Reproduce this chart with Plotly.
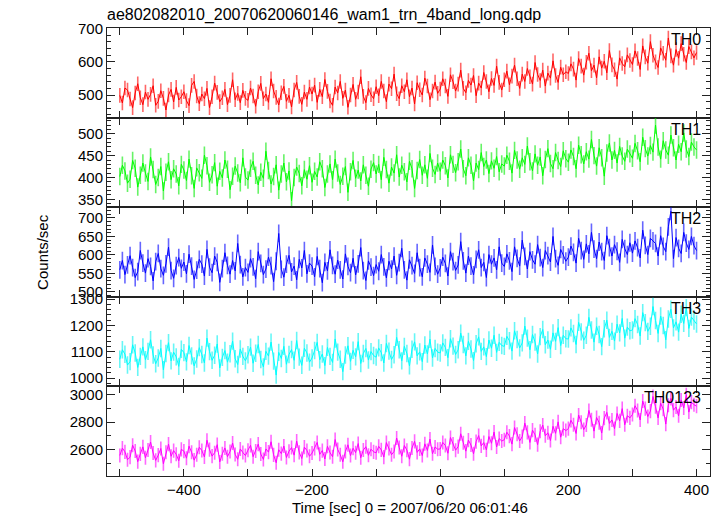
import plotly.graph_objects as go

# ---- data (4-s bins) ----
time_sec = list(range(-500, 401, 4))

th0 = [
    499, 476, 521, 515, 488, 462, 506, 534, 492, 471, 509, 487, 502, 528, 469, 481, 513, 490, 455, 500, 517, 479, 523, 485, 495,
    510, 483, 468, 529, 541, 497, 474, 503, 489, 520, 462, 495, 536, 508, 480, 492, 517, 471, 499, 546, 486, 505, 477, 514, 490,
    484, 521, 497, 466, 510, 535, 489, 503, 478, 549, 512, 493, 470, 507, 526, 481, 499, 464, 515, 538, 496, 472, 509, 487, 524,
    503, 530, 478, 517, 495, 547, 511, 482, 469, 524, 506, 541, 490, 515, 463, 500, 532, 487, 509, 555, 496, 477, 520, 501, 489,
    525, 498, 541, 512, 480, 533, 519, 563, 504, 489, 528, 510, 546, 495, 521, 473, 537, 516, 500, 551, 527, 486, 512, 539, 505,
    518, 549, 527, 496, 561, 540, 512, 533, 575, 520, 507, 544, 530, 559, 498, 536, 521, 568, 541, 510, 550, 529, 587, 538, 515,
    546, 572, 531, 557, 590, 549, 520, 563, 541, 580, 555, 533, 598, 562, 544, 575, 527, 566, 551, 603, 559, 538, 584, 561, 570,
    565, 594, 578, 545, 610, 587, 560, 599, 626, 573, 590, 552, 615, 581, 602, 567, 634, 591, 576, 548, 612, 595, 585, 621, 604,
    592, 633, 610, 577, 648, 615, 596, 661, 620, 600, 583, 642, 626, 605, 672, 618, 590, 637, 611, 655, 623, 598, 646, 630, 612,
    628,
]
th1 = [
    402, 428, 415, 387, 396, 439, 421, 378, 405, 433, 410, 391, 447, 418, 384, 400, 425, 369, 412, 436, 395, 420, 408, 381, 430,
    417, 393, 442, 404, 375, 422, 411, 398, 451, 427, 389, 406, 434, 380, 414, 399, 440, 419, 372, 403, 426, 410, 388, 445, 401,
    394, 421, 437, 405, 383, 412, 398, 460, 416, 385, 402, 429, 371, 408, 433, 390, 415, 347, 400, 424, 409, 381, 418, 396, 427,
    389, 414, 401, 436, 420, 377, 408, 431, 395, 442, 410, 384, 403, 425, 366, 413, 439, 398, 417, 392, 429, 405, 380, 419, 434,
    408, 430, 395, 446, 418, 387, 424, 410, 452, 401, 428, 413, 390, 437, 420, 375, 416, 441, 405, 429, 398, 455, 421, 407, 433,
    414, 440, 427, 399, 452, 430, 411, 436, 465, 420, 404, 445, 428, 392, 433, 418, 457, 425, 440, 409, 438, 421, 448, 413, 431,
    426, 451, 437, 410, 462, 440, 419, 445, 430, 472, 436, 415, 454, 428, 447, 404, 441, 466, 432, 420, 457, 439, 425, 461, 443,
    435, 463, 448, 420, 474, 452, 431, 459, 442, 487, 450, 426, 468, 445, 403, 456, 479, 440, 462, 433, 471, 449, 437, 465, 454,
    444, 478, 461, 436, 492, 466, 449, 473, 458, 520, 470, 442, 484, 463, 451, 497, 468, 440, 476, 459, 502, 465, 448, 481, 470,
    463,
]
th2 = [
    560, 585, 547, 573, 598, 566, 539, 555, 612, 578, 551, 590, 569, 530, 582, 604, 563, 545, 576, 621, 558, 537, 571, 593, 564,
    581, 549, 602, 570, 534, 559, 588, 575, 543, 615, 567, 552, 597, 580, 526, 563, 606, 572, 548, 585, 557, 631, 574, 541, 566,
    553, 590, 568, 536, 609, 577, 547, 562, 594, 571, 528, 583, 658, 561, 540, 575, 599, 554, 570, 533, 588, 565, 612, 549, 578,
    570, 541, 596, 563, 525, 580, 557, 614, 572, 548, 586, 560, 535, 603, 569, 552, 591, 546, 576, 620, 558, 531, 584, 567, 544,
    574, 556, 601, 568, 538, 583, 562, 597, 545, 579, 618, 560, 532, 587, 571, 550, 606, 566, 541, 592, 575, 553, 627, 569, 548,
    565, 594, 577, 543, 609, 582, 558, 573, 636, 584, 551, 597, 570, 546, 588, 614, 566, 580, 539, 601, 575, 592, 560, 622, 578,
    569, 603, 584, 555, 622, 591, 570, 640, 596, 562, 609, 587, 575, 628, 593, 566, 612, 598, 581, 650, 590, 572, 615, 600, 583,
    594, 624, 607, 578, 645, 612, 588, 630, 603, 661, 616, 590, 635, 609, 585, 652, 620, 597, 628, 610, 580, 642, 617, 601, 633,
    605, 638, 620, 592, 667, 626, 601, 645, 638, 631, 597, 652, 623, 609, 676, 718, 590, 647, 618, 604, 661, 632, 615, 650, 625,
    612,
]
th3 = [
    1072, 1108, 1091, 1050, 1063, 1127, 1096, 1041, 1083, 1119, 1070, 1102, 1146, 1088, 1055, 1077, 1113, 1032, 1094, 1135, 1066, 1099, 1081, 1045, 1110,
    1097, 1062, 1124, 1085, 1047, 1073, 1116, 1090, 1058, 1152, 1101, 1068, 1087, 1130, 1039, 1079, 1105, 1061, 1093, 1141, 1074, 1052, 1111, 1083, 1066,
    1089, 1118, 1057, 1095, 1128, 1071, 1043, 1102, 1084, 1137, 1065, 1012, 1098, 1075, 1121, 1053, 1090, 1109, 1068, 1143, 1080, 1049, 1114, 1096, 1061,
    1077, 1105, 1136, 1070, 1092, 1048, 1117, 1083, 1060, 1149, 1099, 1072, 1025, 1088, 1123, 1064, 1106, 1081, 1139, 1056, 1094, 1113, 1069, 1101, 1086,
    1080, 1115, 1097, 1058, 1132, 1103, 1071, 1089, 1155, 1108, 1066, 1121, 1094, 1047, 1110, 1138, 1085, 1100, 1063, 1126, 1092, 1148, 1077, 1113, 1099,
    1096, 1134, 1117, 1078, 1150, 1122, 1090, 1108, 1171, 1128, 1085, 1140, 1111, 1067, 1131, 1157, 1102, 1119, 1082, 1145, 1114, 1163, 1098, 1136, 1124,
    1121, 1159, 1142, 1103, 1180, 1147, 1115, 1134, 1198, 1152, 1108, 1166, 1137, 1092, 1158, 1185, 1127, 1145, 1110, 1172, 1140, 1192, 1124, 1163, 1150,
    1149, 1191, 1170, 1128, 1212, 1176, 1144, 1163, 1231, 1183, 1137, 1197, 1166, 1120, 1188, 1220, 1155, 1178, 1141, 1205, 1172, 1227, 1152, 1194, 1180,
    1183, 1226, 1204, 1160, 1249, 1211, 1178, 1197, 1272, 1219, 1170, 1236, 1200, 1146, 1225, 1262, 1191, 1214, 1175, 1243, 1208, 1268, 1189, 1232, 1217,
    1206,
]
th0123 = [
    2558, 2611, 2584, 2527, 2546, 2632, 2590, 2513, 2569, 2620, 2541, 2597, 2655, 2575, 2522, 2560, 2608, 2498, 2581, 2640, 2552, 2593, 2566, 2519, 2602,
    2589, 2538, 2625, 2581, 2524, 2563, 2617, 2594, 2547, 2668, 2600, 2553, 2578, 2636, 2511, 2570, 2612, 2549, 2586, 2648, 2565, 2530, 2605, 2579, 2557,
    2596, 2631, 2549, 2590, 2640, 2568, 2529, 2605, 2582, 2657, 2562, 2505, 2599, 2571, 2626, 2543, 2588, 2615, 2560, 2662, 2580, 2536, 2618, 2594, 2552,
    2575, 2609, 2652, 2566, 2593, 2532, 2624, 2579, 2548, 2673, 2601, 2563, 2512, 2586, 2635, 2557, 2610, 2578, 2644, 2541, 2597, 2621, 2559, 2603, 2584,
    2577, 2624, 2598, 2546, 2651, 2609, 2563, 2587, 2684, 2615, 2552, 2630, 2596, 2531, 2612, 2660, 2580, 2605, 2557, 2642, 2594, 2676, 2570, 2619, 2603,
    2605, 2652, 2630, 2574, 2688, 2641, 2596, 2622, 2715, 2650, 2589, 2669, 2633, 2570, 2658, 2702, 2627, 2651, 2598, 2695, 2646, 2727, 2619, 2680, 2662,
    2672, 2726, 2698, 2640, 2760, 2711, 2663, 2694, 2792, 2725, 2652, 2741, 2707, 2636, 2733, 2778, 2700, 2722, 2666, 2769, 2718, 2801, 2690, 2752, 2738,
    2752, 2812, 2780, 2717, 2851, 2798, 2745, 2779, 2884, 2816, 2734, 2833, 2795, 2720, 2828, 2870, 2790, 2815, 2752, 2862, 2808, 2897, 2780, 2846, 2830,
    2855, 2918, 2884, 2815, 2952, 2897, 2840, 2879, 2985, 2910, 2830, 2936, 2893, 2785, 2922, 2971, 2886, 2909, 2845, 2960, 2902, 2998, 2872, 2944, 2925,
    2915,
]

# constant 1-sigma error per band (estimated)
errors = [22, 20, 24, 33, 51]
band_names = ["TH0", "TH1", "TH2", "TH3", "TH0123"]
series = [th0, th1, th2, th3, th0123]

x_tick_vals = [-500, -400, -300, -200, -100, 0, 100, 200, 300, 400]
x_tick_text = ["", "\u2212400", "", "\u2212200", "", "0", "", "200", "", "400"]

# ---- styling ----
colors = ["#ff0000", "#00ff00", "#0000ff", "#00ffff", "#ff00ff"]
err_colors = ["rgba(255,0,0,0.6)", "rgba(0,235,0,0.6)", "rgba(0,0,255,0.6)",
              "rgba(0,240,240,0.6)", "rgba(255,0,255,0.6)"]
y_ranges = [[432, 702], [332, 537], [487, 729], [969, 1309], [2409, 3058]]
y_dticks = [100, 50, 50, 100, 200]
y_minor = [20, 10, 10, 20, 100]
x_range = [-520, 421]

FONT = "Liberation Sans, Arial, Helvetica, sans-serif"
AXC = "#222222"

fig = go.Figure()
n = len(series)
for i in range(n):
    sfx = "" if i == 0 else str(i + 1)
    fig.add_trace(go.Scatter(
        x=time_sec, y=series[i], mode="lines",
        line=dict(color=colors[i], width=1),
        error_y=dict(type="constant", value=errors[i], thickness=1.6, width=0,
                     color=err_colors[i]),
        xaxis="x" + sfx, yaxis="y" + sfx, showlegend=False,
        hoverinfo="x+y",
    ))
    top = 1 - i / n
    bot = 1 - (i + 1) / n
    last = (i == n - 1)
    fig.layout["xaxis" + sfx] = dict(
        domain=[0, 1], anchor="y" + sfx, range=x_range,
        tickvals=x_tick_vals, ticktext=x_tick_text,
        showticklabels=last, ticks="inside", ticklen=7, tickwidth=1, tickcolor=AXC,
        mirror="allticks", showline=True, linecolor=AXC, linewidth=1,
        showgrid=False, zeroline=False,
        tickfont=dict(family=FONT, size=15, color="black"),
        **({} if i == 0 else {"matches": "x"}),
    )
    fig.layout["yaxis" + sfx] = dict(
        domain=[bot, top], anchor="x" + sfx, range=y_ranges[i], dtick=y_dticks[i],
        ticks="inside", ticklen=8, tickwidth=1, tickcolor=AXC,
        minor=dict(dtick=y_minor[i], ticks="inside", ticklen=4, tickcolor=AXC, tickwidth=1),
        mirror="allticks", showline=True, linecolor=AXC, linewidth=1,
        showgrid=False, zeroline=False,
        tickfont=dict(family=FONT, size=15, color="black"),
    )
    fig.add_annotation(
        text=band_names[i], xref="paper", yref="paper", x=1, y=top,
        xanchor="right", yanchor="top", xshift=-7, yshift=-1, showarrow=False,
        font=dict(family=FONT, size=16, color="black"),
    )

fig.add_annotation(
    text="Counts/sec", xref="paper", yref="paper", x=-0.108, y=0.5,
    textangle=-90, showarrow=False, xanchor="center", yanchor="middle",
    font=dict(family=FONT, size=15, color="black"),
)
fig.add_annotation(
    text="Time [sec] 0 = 2007/06/20 06:01:46", xref="paper", yref="paper",
    x=0.502, y=-0.0714, showarrow=False, xanchor="center", yanchor="middle",
    font=dict(family=FONT, size=15, color="black"),
)

fig.update_layout(
    width=723, height=516,
    margin=dict(l=107, r=13, t=28, b=40),
    paper_bgcolor="white", plot_bgcolor="white",
    title=dict(text="ae802082010_20070620060146_wam1_trn_4band_long.qdp",
               xref="paper", x=0, xanchor="left", yref="container",
               y=1 - 14 / 516, yanchor="middle",
               font=dict(family=FONT, size=16, color="black")),
)

fig.write_html("out.html", config={"displayModeBar": False},
               post_script="document.body.style.margin='0';")
